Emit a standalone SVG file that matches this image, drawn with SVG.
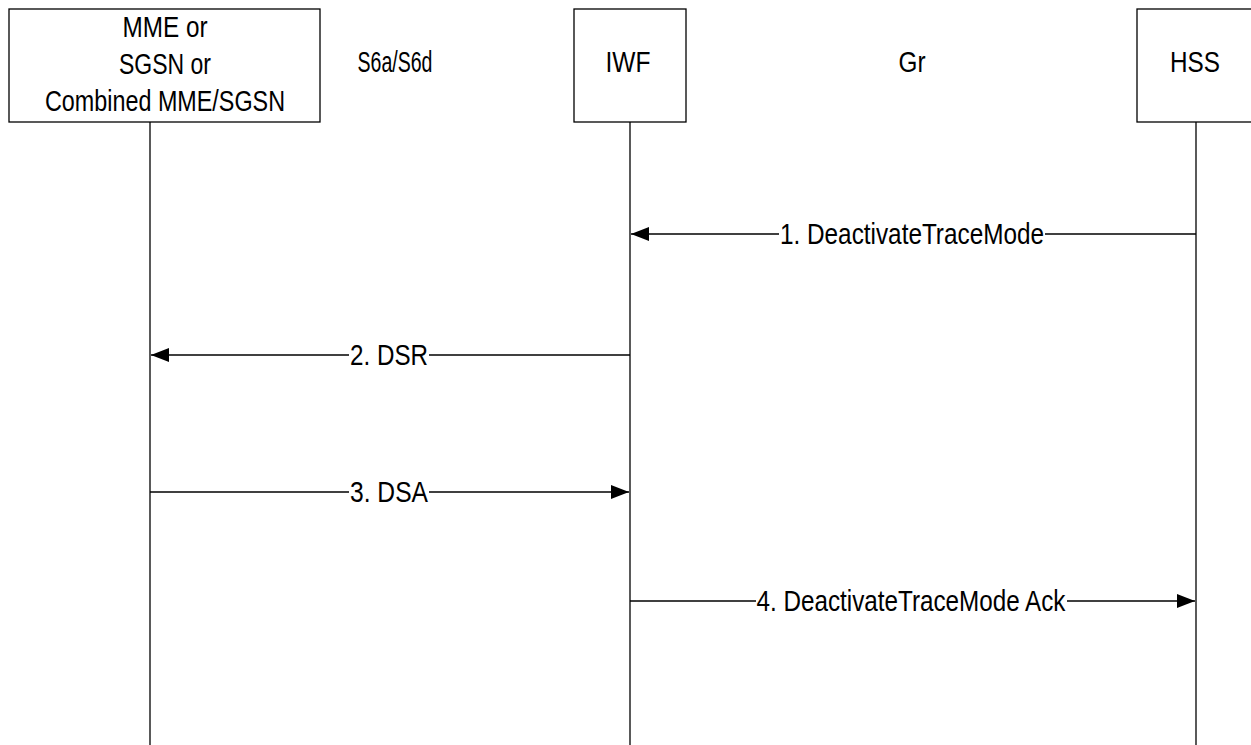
<svg xmlns="http://www.w3.org/2000/svg" width="1251" height="745" viewBox="0 0 1251 745">
<style>
.box{fill:#fff;stroke:#000;stroke-width:1.3}
.life{stroke:#000;stroke-width:1.3;fill:none}
.msg{stroke:#000;stroke-width:1.3;fill:none}
text{font-family:"Liberation Sans",Arial,sans-serif;font-size:29px;fill:#000;text-anchor:middle}
.lbl{fill:#fff}
</style>
<defs>
<marker id="ah" viewBox="0 0 18 14" refX="18" refY="7" markerWidth="18" markerHeight="14" markerUnits="userSpaceOnUse" orient="auto">
<path d="M0,0 L18,7 L0,14 Z" fill="#000"/>
</marker>
</defs>
<g id="mme">
<rect class="box" x="9" y="9" width="311" height="113"/>
<line class="life" x1="150" y1="122" x2="150" y2="745"/>
<text x="165" y="37" textLength="85" lengthAdjust="spacingAndGlyphs">MME or</text>
<text x="165" y="74" textLength="92" lengthAdjust="spacingAndGlyphs">SGSN or</text>
<text x="165" y="111" textLength="240" lengthAdjust="spacingAndGlyphs">Combined MME/SGSN</text>
</g>
<g id="iwf">
<rect class="box" x="574" y="9" width="112" height="113"/>
<line class="life" x1="630" y1="122" x2="630" y2="745"/>
<text x="628" y="72" textLength="45" lengthAdjust="spacingAndGlyphs">IWF</text>
</g>
<g id="hss">
<rect class="box" x="1137" y="9" width="120" height="113"/>
<line class="life" x1="1196" y1="122" x2="1196" y2="745"/>
<text x="1195" y="72" textLength="50" lengthAdjust="spacingAndGlyphs">HSS</text>
</g>
<g id="iface-labels">
<text x="395" y="72" textLength="75" lengthAdjust="spacingAndGlyphs">S6a/S6d</text>
<text x="912" y="72" textLength="27" lengthAdjust="spacingAndGlyphs">Gr</text>
</g>
<g id="connectors">
<line class="msg" x1="1196" y1="234" x2="631" y2="234" marker-end="url(#ah)"/>
<line class="msg" x1="630" y1="355" x2="151" y2="355" marker-end="url(#ah)"/>
<line class="msg" x1="150" y1="492" x2="629" y2="492" marker-end="url(#ah)"/>
<line class="msg" x1="630" y1="601" x2="1195" y2="601" marker-end="url(#ah)"/>
<rect class="lbl" x="779" y="220" width="266" height="30"/>
<text x="912" y="244" textLength="264" lengthAdjust="spacingAndGlyphs">1. DeactivateTraceMode</text>
<rect class="lbl" x="349" y="341" width="80" height="30"/>
<text x="389" y="365" textLength="78" lengthAdjust="spacingAndGlyphs">2. DSR</text>
<rect class="lbl" x="349" y="478" width="80" height="30"/>
<text x="389" y="502" textLength="78" lengthAdjust="spacingAndGlyphs">3. DSA</text>
<rect class="lbl" x="756" y="587" width="311" height="30"/>
<text x="911" y="611" textLength="309" lengthAdjust="spacingAndGlyphs">4. DeactivateTraceMode Ack</text>
</g>
</svg>
